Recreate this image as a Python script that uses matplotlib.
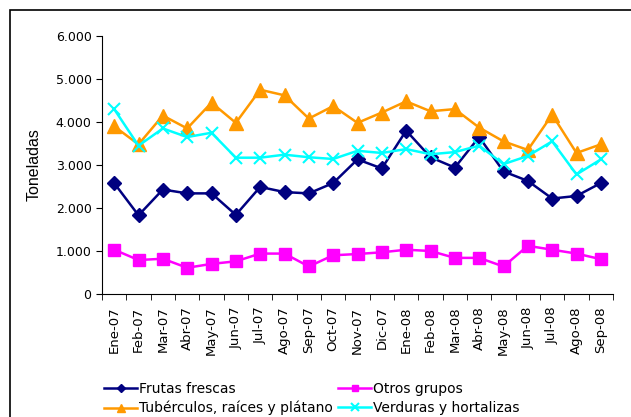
import matplotlib.pyplot as plt
import matplotlib.ticker as mticker
from matplotlib.patches import Rectangle

meses = ["Ene-07", "Feb-07", "Mar-07", "Abr-07", "May-07", "Jun-07", "Jul-07",
         "Ago-07", "Sep-07", "Oct-07", "Nov-07", "Dic-07", "Ene-08", "Feb-08",
         "Mar-08", "Abr-08", "May-08", "Jun-08", "Jul-08", "Ago-08", "Sep-08"]

frutas = [2580, 1830, 2430, 2340, 2340, 1840, 2490, 2370, 2340, 2580, 3130,
          2920, 3800, 3180, 2940, 3650, 2850, 2630, 2220, 2280, 2580]
otros = [1030, 790, 820, 610, 700, 760, 940, 940, 640, 900, 930,
         970, 1030, 1000, 840, 840, 640, 1120, 1030, 940, 810]
tuberculos = [3900, 3480, 4150, 3850, 4450, 3980, 4750, 4620, 4080, 4370, 3980,
              4220, 4480, 4250, 4300, 3870, 3550, 3350, 4170, 3280, 3480]
verduras = [4300, 3450, 3850, 3650, 3750, 3170, 3170, 3240, 3180, 3140, 3330,
            3280, 3370, 3250, 3300, 3450, 3020, 3210, 3550, 2780, 3130]

plt.rcParams["font.family"] = ["DejaVu Sans"]

fig = plt.figure(figsize=(6.31, 4.17), dpi=100)
# outer chart frame (Excel style)
fig.patches.append(Rectangle((10 / 631, -0.05), 1.2, 1 - 10 / 417 + 0.05,
                             transform=fig.transFigure, fill=False,
                             edgecolor="black", linewidth=1.2))

ax = fig.add_axes([102 / 631, 1 - 294 / 417, 511 / 631, 258 / 417])
x = list(range(len(meses)))

l1, = ax.plot(x, frutas, color="#000080", marker="D", markersize=7, linewidth=1.8,
              label="Frutas frescas")
l2, = ax.plot(x, otros, color="#FF00FF", marker="s", markersize=8, linewidth=1.8,
              label="Otros grupos")
l3, = ax.plot(x, tuberculos, color="#FF9900", marker="^", markersize=10, linewidth=1.8,
              label="Tubérculos, raíces y plátano")
l4, = ax.plot(x, verduras, color="#00FFFF", marker="x", markersize=9, markeredgewidth=1.5,
              linewidth=1.8, label="Verduras y hortalizas")

ax.set_xlim(-0.5, len(meses) - 0.5)
ax.set_ylim(0, 6000)
ax.yaxis.set_major_locator(mticker.MultipleLocator(1000))
ax.yaxis.set_major_formatter(mticker.FuncFormatter(
    lambda v, p: "0" if v == 0 else f"{v:,.0f}".replace(",", ".")))
ax.set_xticks(x)
ax.set_xticklabels(meses, rotation=90, fontsize=9.5)
ax.set_xticks([i - 0.5 for i in range(len(meses) + 1)], minor=True)
ax.tick_params(axis="x", which="major", length=0, pad=9)
ax.tick_params(axis="x", which="minor", length=4, direction="out")
ax.tick_params(axis="y", labelsize=9, length=4, direction="out")
ax.spines["top"].set_visible(False)
ax.spines["right"].set_visible(False)
ax.set_ylabel("Toneladas", fontsize=11.5, family="Liberation Sans", labelpad=10)

# column-major order so rows read: Frutas/Otros, Tubérculos/Verduras
fig.legend([l1, l3, l2, l4],
           [l1.get_label(), l3.get_label(), l2.get_label(), l4.get_label()],
           loc="upper left", bbox_to_anchor=(104 / 631, 1 - 382 / 417), ncol=2,
           frameon=False, fontsize=10, handlelength=2.4, handletextpad=0.1,
           columnspacing=0.4, labelspacing=0.35, borderaxespad=0, borderpad=0,
           markerscale=0.6)

fig.savefig("out.png", dpi=100)
